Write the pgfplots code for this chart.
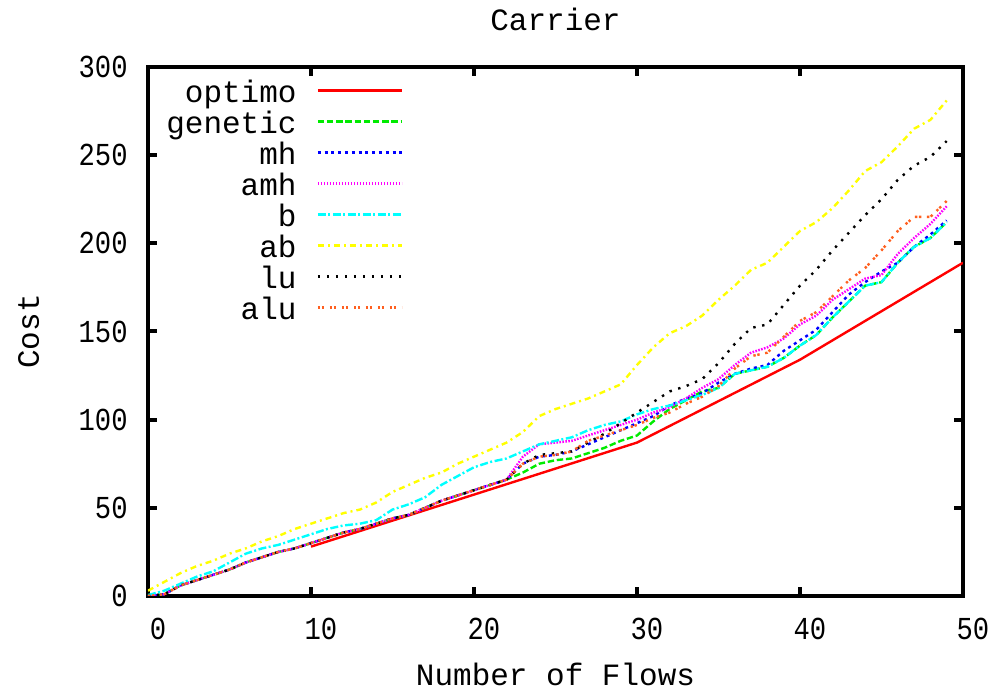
\documentclass[border=0pt]{standalone}
\usepackage{fontspec}
\setmainfont{Liberation Mono}
\newfontfamily\tickfont[FakeStretch=0.85]{Liberation Mono}
\usepackage{pgfplots}
\pgfplotsset{compat=1.18}
\usepackage{pgfplotstable}

\definecolor{cgreen}{RGB}{0,235,0}
\definecolor{cblue}{RGB}{0,0,255}
\definecolor{cmag}{RGB}{255,0,255}
\definecolor{ccyan}{RGB}{0,255,255}
\definecolor{cyel}{RGB}{255,255,0}
\definecolor{corange}{RGB}{255,96,32}

\pgfplotstableread{
x gen mh amh b ab lu alu
0 0 0 0 0.5 3 0 0
1 1 1 1 3 8 1 1
2 6 6 6 7 13 6 6
3 9 9 9 11 17 9 9
4 12 12 12 14 20 12 12
5 15 15 15 19 24 15 15
6 19 19 19 24 27 19 19
7 22 22 22 27 31 22 22
8 25 25 25 29 34 25 25
9 27 27 27 32 38 27 27
10 30 30 30 35 41 30 30
11 33 33 33 38 44 33 33
12 36 36 36 40 47 36 36
13 38 38 38 41 49 38 38
14 41 41 41 43 53 41 41
15 44 44 44 49 59 44 44
16 46 46 46 52 63 46 46
17 50 50 50 56 67 50 50
18 54 54 54 63 70 54 54
19 57 57 57 68 75 57 57
20 60 60 60 73 79 60 60
21 63 63 63 76 83 63 63
22 66 66 66 78 87 66 66
23 70 75 79 82 93 75 75
24 75 79 86 86 102 80 79
25 77 80 87 88 106 81 80
26 78 82 88 90 109 82 82
27 81 86 91 94 112 87 88
28 84 90 94 97 116 92 91
29 88 94 97 99 120 98 94
30 91 98 100 103 131 104 97
31 99 102 104 106 141 110 101
32 106 108 107 108 149 116 104
33 111 112 112 111 153 119 109
34 116 115 118 114 159 123 113
35 118 121 123 118 168 132 119
36 126 126 131 126 176 143 129
37 128 129 138 128 185 152 136
38 130 131 141 130 189 154 138
39 135 139 146 135 198 165 147
40 142 145 154 142 207 176 156
41 148 151 159 148 212 185 161
42 158 161 168 158 220 196 170
43 167 171 174 167 230 206 179
44 176 178 180 176 241 216 186
45 178 184 182 178 246 225 196
46 189 189 194 189 255 236 207
47 198 198 203 198 265 244 215
48 203 205 211 203 270 249 215
49 212 213 221 212 281 258 224
}\data

\begin{document}
\begin{tikzpicture}
\begin{axis}[
  scale only axis, width=407.5pt, height=264.5pt,
  xmin=0, xmax=50, ymin=0, ymax=300,
  xtick={0,10,...,50}, ytick={0,50,...,300},
  tick align=inside, major tick length=4.5pt,
  axis line style={line width=2pt},
  every tick/.style={black, line width=2pt},
  ticklabel style={font=\tickfont\fontsize{16}{16}\selectfont},
  /pgf/number format/assume math mode=true,
  yticklabel style={inner xsep=0pt, xshift=-10pt},
  xticklabel style={inner ysep=0pt, yshift=-11pt, xshift=5pt},
  title={Carrier},
  title style={at={(0.5,1)}, anchor=base, yshift=12pt, inner sep=0pt, font=\fontsize{15.5}{15.5}\selectfont},
  xlabel={Number of Flows},
  xlabel style={at={(0.5,0)}, anchor=base, yshift=-45pt, inner sep=0pt, font=\fontsize{15.5}{15.5}\selectfont},
  ylabel={Cost},
  ylabel style={at={(-0.134,0.5)}, anchor=base, inner sep=0pt, font=\fontsize{15.5}{15.5}\selectfont},
  no markers,
  every axis plot/.append style={line width=1.2pt},
  legend plot pos=right,
  legend cell align=right,
  legend image code/.code={\path (0pt,0pt); \draw[#1] (10pt,0pt) -- (52pt,0pt);},
  legend style={draw=none, fill=none, at={(0.022,0.9854)}, anchor=north west, inner sep=0pt,
    column sep=0pt, row sep=0pt,
    font=\fontsize{15.5}{15.5}\selectfont,
    nodes={inner xsep=0pt, inner ysep=0pt, text height=13.5pt, text depth=2pt}},
]
\addplot[red, solid] coordinates {(10,28) (20,57.5) (30,87) (40,134) (50,189)};
\addlegendentry{optimo}
\addplot[cgreen, dash pattern=on 3.2pt off 1.4pt] table[x=x,y=gen] {\data};
\addlegendentry{genetic}
\addplot[cblue, dash pattern=on 1.5pt off 1.9pt] table[x=x,y=mh] {\data};
\addlegendentry{mh}
\addplot[cmag, dash pattern=on 0.8pt off 0.7pt] table[x=x,y=amh] {\data};
\addlegendentry{amh}
\addplot[ccyan, dash pattern=on 4pt off 1.2pt on 1pt off 1.3pt] table[x=x,y=b] {\data};
\addlegendentry{b}
\addplot[cyel, dash pattern=on 3pt off 2pt on 1pt off 2pt] table[x=x,y=ab] {\data};
\addlegendentry{ab}
\addplot[black, dash pattern=on 1.2pt off 3.3pt] table[x=x,y=lu] {\data};
\addlegendentry{lu}
\addplot[corange, dash pattern=on 1.2pt off 0.8pt on 1.2pt off 2.8pt] table[x=x,y=alu] {\data};
\addlegendentry{alu}
\end{axis}
\pgfresetboundingbox
\path[use as bounding box] (-74pt,-46.5pt) rectangle (421.5pt,298pt);
\end{tikzpicture}
\end{document}
